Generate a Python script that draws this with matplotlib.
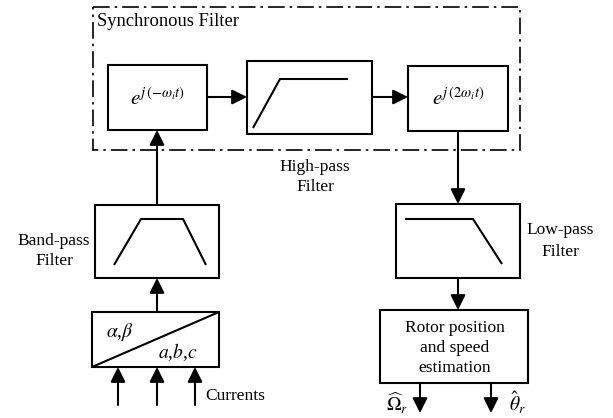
import matplotlib.pyplot as plt
from matplotlib.patches import Rectangle

plt.rcParams['font.family'] = ['Liberation Serif', 'DejaVu Serif']
plt.rcParams['mathtext.fontset'] = 'stix'

# text content of the diagram
sync_title = 'Synchronous Filter'
rot_neg = r'$e^{j\,(-\omega_i t)}$'
rot_pos = r'$e^{j\,(2\omega_i t)}$'
filter_names = ['High-pass\nFilter', 'Band-pass\nFilter', 'Low-pass\nFilter']
transform_labels = [r'$\alpha$,$\beta$', r'$a$,$b$,$c$']
estimator_label = 'Rotor position\nand speed\nestimation'
input_label = 'Currents'
output_labels = [r'$\widehat{\Omega}_r$', r'$\hat{\theta}_r$']

# layout in pixel coordinates (x, y from top-left)
boxes = {
    'rot_neg': (108, 65, 207, 130),
    'hpf': (247, 61, 372, 134),
    'rot_pos': (408, 66, 508, 131),
    'bpf': (95, 205, 219, 278),
    'abc': (92, 312, 219, 367),
    'lpf': (396, 204, 520, 278),
    'est': (380, 310, 528, 383),
}

fig = plt.figure(figsize=(6.13, 4.18), dpi=100)
ax = fig.add_axes([0, 0, 1, 1])
ax.set_xlim(0, 613)
ax.set_ylim(418, 0)
ax.axis('off')

LW = 1.5


def box(key):
    x0, y0, x1, y1 = boxes[key]
    ax.add_patch(Rectangle((x0, y0), x1 - x0, y1 - y0, fill=False,
                           edgecolor='k', lw=LW))


def arrow(x0, y0, x1, y1):
    ax.annotate('', xy=(x1, y1), xytext=(x0, y0),
                arrowprops=dict(arrowstyle='-|>,head_length=0.9,head_width=0.45',
                                mutation_scale=10, lw=LW, color='k',
                                shrinkA=0, shrinkB=0))


def line(xs, ys):
    ax.plot(xs, ys, color='k', lw=LW, solid_capstyle='butt')


# dash-dot synchronous filter frame
ax.add_patch(Rectangle((93, 7), 427, 143, fill=False, edgecolor='k',
                       lw=1.2, linestyle=(0, (10, 3, 1.5, 3))))
ax.text(97, 22, sync_title, fontsize=13.3, va='center', ha='left')

for k in boxes:
    box(k)

# rotation blocks
ax.text(157, 99, rot_neg, fontsize=15, ha='center', va='center')
ax.text(458, 99, rot_pos, fontsize=15, ha='center', va='center')

# filter shapes
line([253, 280, 348], [128, 79, 79])
line([114, 141, 183, 206], [265, 219, 219, 265])
line([405, 473, 502], [219, 219, 264])

# filter names
ax.text(315, 177, filter_names[0], fontsize=12.5, ha='center', va='center',
        linespacing=1.35)
ax.text(54, 251, filter_names[1], fontsize=12.5, ha='center', va='center',
        linespacing=1.3)
ax.text(560, 241, filter_names[2], fontsize=12.5, ha='center', va='center',
        linespacing=1.5)

# abc -> alpha beta transform
line([92, 219], [367, 312])
ax.text(120, 332, transform_labels[0], fontsize=14, ha='center', va='center')
ax.text(178, 352, transform_labels[1], fontsize=14, ha='center', va='center')

# estimator
ax.text(455, 348, estimator_label, fontsize=12.5, ha='center', va='center',
        linespacing=1.3)

# signal flow
arrow(207, 97, 247, 97)
arrow(372, 97, 408, 97)
arrow(458, 131, 458, 204)
arrow(458, 278, 458, 310)
arrow(157, 312, 157, 278)
arrow(157, 205, 157, 130)
for x in (118, 157, 195):
    arrow(x, 405, x, 367)
ax.text(205, 396, input_label, fontsize=12.5, ha='left', va='center')

for x in (420, 491):
    arrow(x, 383, x, 413)
ax.text(397, 403, output_labels[0], fontsize=14, ha='center', va='center')
ax.text(518, 403, output_labels[1], fontsize=14, ha='center', va='center')

fig.savefig('out.png', dpi=100)
